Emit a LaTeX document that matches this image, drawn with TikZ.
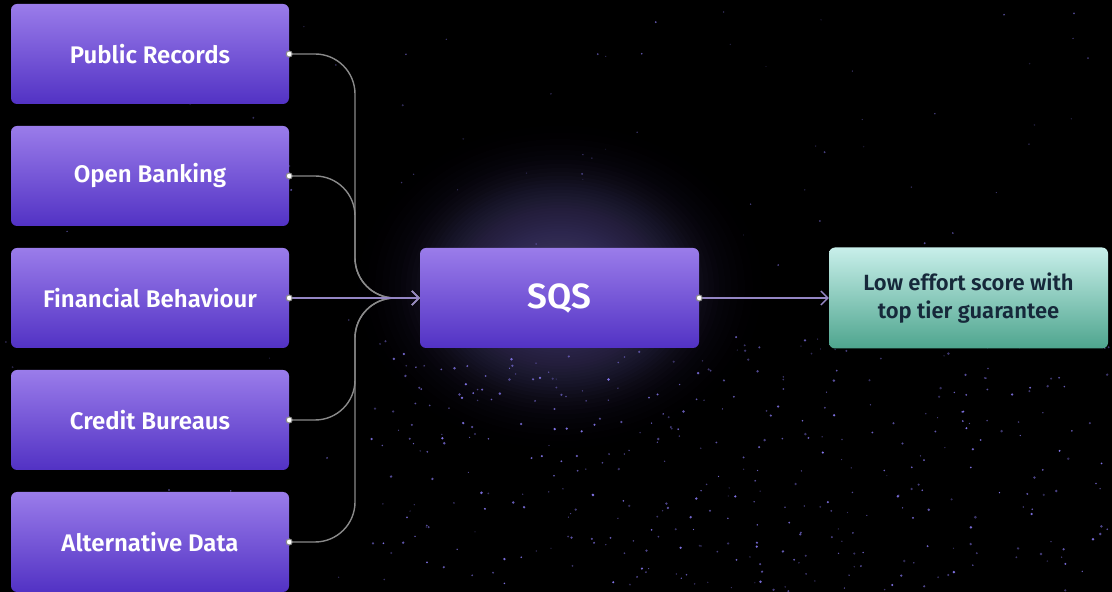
\documentclass[tikz,border=0pt]{standalone}
\usepackage{fontspec}
\setmainfont{Fira Sans}[BoldFont=* SemiBold]
\usetikzlibrary{arrows.meta}
\definecolor{glowc}{HTML}{4A3F74}
\definecolor{ptop}{HTML}{9A7CEA}
\definecolor{pbot}{HTML}{5232C4}
\definecolor{gtop}{HTML}{C8EFEA}
\definecolor{gbot}{HTML}{4EA58E}
\definecolor{gtext}{HTML}{16283A}
\definecolor{curvec}{HTML}{8A8A8A}
\definecolor{linec}{HTML}{9486C4}
\definecolor{starc}{HTML}{8476EC}
\tikzset{
  srcbox/.style={rounded corners=6pt, minimum width=278pt, minimum height=100pt,
    top color=ptop, bottom color=pbot, draw=none, text=white,
    font=\bfseries\fontsize{24}{27}\selectfont, inner sep=0pt},
  sqsbox/.style={srcbox, minimum width=279pt, font=\bfseries\fontsize{35}{38}\selectfont},
  outbox/.style={rounded corners=6pt, minimum width=279pt, minimum height=101pt,
    top color=gtop, bottom color=gbot, draw=none, text=gtext, align=center,
    font=\bfseries\fontsize{22}{28}\selectfont, inner sep=0pt},
  curve/.style={draw=curvec, line width=1.4pt, rounded corners=40pt},
  straight/.style={draw=linec, line width=1.4pt},
  tip/.style={-{Straight Barb[length=7pt,width=14pt,line width=1.4pt]}},
  startdot/.style={circle, fill=white, draw=curvec, line width=1pt, minimum size=6pt, inner sep=0pt},
}
\begin{document}
\begin{tikzpicture}[x=1pt,y=1pt]
\useasboundingbox (0,0) rectangle (1112,592);
\fill[black] (0,0) rectangle (1112,592);
\begin{scope}
\clip (0,0) rectangle (1112,592);
\foreach \k in {0,...,59}{
  \pgfmathsetmacro{\rx}{260*(1-sqrt(\k/60))}
  \pgfmathsetmacro{\al}{0.05*min(1,(\k+1)/16)}
  \fill[glowc, opacity=\al] (560,305) ellipse ({\rx} and {0.8*\rx});
}
\pgfmathsetseed{7}
\foreach \i in {1,...,380}{
  \pgfmathsetmacro{\xx}{370+rnd*740}
  \pgfmathsetmacro{\yy}{rnd*255}
  \pgfmathsetmacro{\op}{0.35+0.65*rnd}
  \pgfmathsetmacro{\rr}{0.6+0.8*rnd}
  \fill[starc, opacity=\op] (\xx,\yy) circle (\rr);
}
\foreach \i in {1,...,120}{
  \pgfmathsetmacro{\xx}{rnd*1112}
  \pgfmathsetmacro{\yy}{rnd*592}
  \pgfmathsetmacro{\op}{0.2+0.6*rnd}
  \pgfmathsetmacro{\rr}{0.5+0.6*rnd}
  \fill[starc, opacity=\op] (\xx,\yy) circle (\rr);
}
\end{scope}
% source boxes (y = 592 - pixel y)
\node[srcbox] (pr) at (150,538) {Public Records};
\node[srcbox] (ob) at (150,416) {Open Banking};
\node[srcbox] (fb) at (150,294) {Financial Behaviour};
\node[srcbox] (cb) at (150,172) {Credit Bureaus};
\node[srcbox] (ad) at (150,50) {Alternative Data};
\node[sqsbox] (sqs) at (559.5,294) {SQS};
\node[outbox] (out) at (968.5,294) {Low effort score with\\top tier guarantee};
\coordinate (bus) at (355,294);
% connectors
\draw[curve, tip] (pr.east) -| (bus) -- (sqs.west);
\draw[curve, tip] (ob.east) -| (bus) -- (sqs.west);
\draw[curve, tip] (cb.east) -| (bus) -- (sqs.west);
\draw[curve, tip] (ad.east) -| (bus) -- (sqs.west);
\draw[straight, tip] (fb.east) -- (sqs.west);
\draw[straight, tip] (sqs.east) -- (out.west);
\foreach \n in {pr,ob,fb,cb,ad,sqs}{
  \node[startdot] at (\n.east) {};
}
\end{tikzpicture}
\end{document}
